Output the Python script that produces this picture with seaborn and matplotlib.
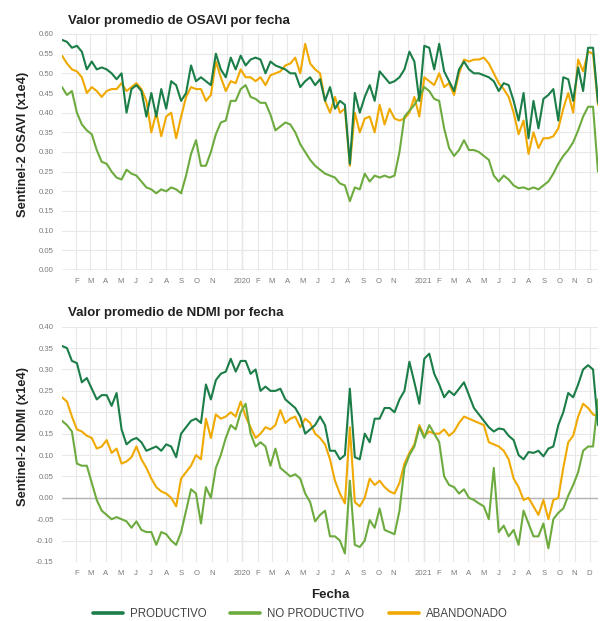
import pandas as pd
import matplotlib.pyplot as plt
import matplotlib.dates as mdates
from matplotlib.lines import Line2D
import seaborn as sns

# fechas cada 10 dias desde el 3 de enero de 2019
fecha_inicio = "2019-01-03"
paso = "10D"

clases = ["PRODUCTIVO", "NO PRODUCTIVO", "ABANDONADO"]
colores = {"PRODUCTIVO": "#1b7d47", "NO PRODUCTIVO": "#6dab3f", "ABANDONADO": "#f0a900"}
meses = ["E", "F", "M", "A", "M", "J", "J", "A", "S", "O", "N", "D"]

osavi_productivo = [
    0.585, 0.580, 0.565, 0.570, 0.555, 0.510, 0.530, 0.510, 0.515, 0.510,
    0.500, 0.485, 0.500, 0.400, 0.460, 0.470, 0.455, 0.390, 0.450, 0.390,
    0.460, 0.410, 0.480, 0.470, 0.430, 0.450, 0.520, 0.480, 0.490, 0.480,
    0.470, 0.550, 0.510, 0.490, 0.540, 0.510, 0.545, 0.520, 0.535, 0.540,
    0.535, 0.500, 0.530, 0.520, 0.515, 0.510, 0.500, 0.500, 0.465, 0.480,
    0.490, 0.470, 0.485, 0.430, 0.465, 0.410, 0.430, 0.420, 0.270, 0.450,
    0.400, 0.440, 0.470, 0.430, 0.505, 0.490, 0.475, 0.480, 0.490, 0.510,
    0.555, 0.530, 0.430, 0.570, 0.565, 0.510, 0.575, 0.505, 0.480, 0.455,
    0.510, 0.530, 0.510, 0.500, 0.500, 0.495, 0.490, 0.480, 0.455, 0.475,
    0.470, 0.430, 0.380, 0.450, 0.335, 0.430, 0.360, 0.435, 0.445, 0.460,
    0.380, 0.490, 0.485, 0.430, 0.515, 0.455, 0.565, 0.565, 0.425,
]
osavi_no_productivo = [
    0.465, 0.445, 0.455, 0.400, 0.370, 0.355, 0.345, 0.305, 0.275, 0.270,
    0.250, 0.235, 0.230, 0.255, 0.245, 0.240, 0.225, 0.210, 0.205, 0.195,
    0.205, 0.200, 0.210, 0.205, 0.195, 0.240, 0.295, 0.330, 0.265, 0.265,
    0.300, 0.345, 0.375, 0.380, 0.430, 0.430, 0.460, 0.470, 0.440, 0.435,
    0.425, 0.425, 0.395, 0.355, 0.365, 0.375, 0.370, 0.350, 0.320, 0.300,
    0.280, 0.265, 0.255, 0.245, 0.240, 0.235, 0.220, 0.215, 0.175, 0.210,
    0.205, 0.245, 0.225, 0.240, 0.235, 0.240, 0.235, 0.240, 0.300, 0.390,
    0.405, 0.420, 0.440, 0.465, 0.455, 0.435, 0.430, 0.360, 0.310, 0.290,
    0.305, 0.330, 0.305, 0.305, 0.300, 0.290, 0.280, 0.240, 0.225, 0.240,
    0.230, 0.215, 0.208, 0.210, 0.205, 0.210, 0.205, 0.215, 0.225, 0.245,
    0.270, 0.290, 0.305, 0.325, 0.355, 0.390, 0.415, 0.415, 0.250,
]
osavi_abandonado = [
    0.545, 0.525, 0.510, 0.505, 0.490, 0.450, 0.465, 0.455, 0.440, 0.455,
    0.460, 0.460, 0.475, 0.455, 0.465, 0.475, 0.460, 0.430, 0.350, 0.400,
    0.340, 0.390, 0.400, 0.335, 0.390, 0.440, 0.465, 0.460, 0.460, 0.430,
    0.445, 0.530, 0.490, 0.455, 0.480, 0.475, 0.510, 0.490, 0.490, 0.480,
    0.490, 0.470, 0.495, 0.500, 0.505, 0.520, 0.525, 0.540, 0.500, 0.575,
    0.525, 0.510, 0.500, 0.430, 0.400, 0.440, 0.400, 0.410, 0.265, 0.400,
    0.350, 0.385, 0.390, 0.350, 0.420, 0.370, 0.410, 0.385, 0.380, 0.385,
    0.400, 0.440, 0.390, 0.490, 0.480, 0.470, 0.500, 0.465, 0.475, 0.445,
    0.500, 0.535, 0.530, 0.535, 0.535, 0.540, 0.525, 0.500, 0.475, 0.460,
    0.440, 0.400, 0.345, 0.380, 0.295, 0.350, 0.310, 0.335, 0.335, 0.340,
    0.360, 0.410, 0.450, 0.400, 0.535, 0.505, 0.555, 0.550, 0.420,
]

ndmi_productivo = [
    0.355, 0.350, 0.320, 0.315, 0.270, 0.280, 0.255, 0.230, 0.240, 0.240,
    0.215, 0.245, 0.160, 0.125, 0.135, 0.140, 0.130, 0.110, 0.115, 0.120,
    0.110, 0.125, 0.120, 0.095, 0.150, 0.165, 0.180, 0.185, 0.175, 0.265,
    0.230, 0.275, 0.290, 0.295, 0.325, 0.295, 0.320, 0.320, 0.290, 0.300,
    0.250, 0.260, 0.250, 0.250, 0.255, 0.230, 0.220, 0.210, 0.190, 0.150,
    0.160, 0.170, 0.190, 0.170, 0.110, 0.110, 0.090, 0.100, 0.255, 0.095,
    0.090, 0.150, 0.130, 0.185, 0.185, 0.210, 0.210, 0.200, 0.230, 0.250,
    0.318, 0.270, 0.220, 0.325, 0.337, 0.290, 0.265, 0.235, 0.250, 0.240,
    0.255, 0.270, 0.240, 0.210, 0.195, 0.180, 0.165, 0.155, 0.162, 0.160,
    0.145, 0.135, 0.100, 0.090, 0.107, 0.105, 0.110, 0.097, 0.115, 0.120,
    0.170, 0.200, 0.245, 0.235, 0.265, 0.300, 0.310, 0.300, 0.170,
]
ndmi_no_productivo = [
    0.180, 0.170, 0.155, 0.080, 0.075, 0.075, 0.035, -0.005, -0.030, -0.040,
    -0.050, -0.045, -0.050, -0.055, -0.070, -0.055, -0.075, -0.080, -0.080, -0.110,
    -0.080, -0.085, -0.100, -0.110, -0.080, -0.030, 0.020, 0.010, -0.060, 0.025,
    0.000, 0.070, 0.100, 0.140, 0.170, 0.160, 0.200, 0.220, 0.150, 0.120,
    0.130, 0.120, 0.075, 0.115, 0.070, 0.060, 0.050, 0.055, 0.045, 0.010,
    -0.010, -0.055, -0.040, -0.030, -0.090, -0.090, -0.100, -0.130, 0.040, -0.110,
    -0.115, -0.100, -0.052, -0.070, -0.025, -0.075, -0.080, -0.085, -0.030, 0.070,
    0.100, 0.120, 0.165, 0.140, 0.170, 0.150, 0.130, 0.050, 0.030, 0.025,
    0.010, 0.020, 0.000, -0.005, -0.013, -0.020, -0.050, 0.070, -0.080, -0.065,
    -0.090, -0.075, -0.110, -0.030, -0.060, -0.090, -0.090, -0.060, -0.118, -0.050,
    -0.035, -0.025, 0.005, 0.030, 0.060, 0.110, 0.120, 0.120, 0.230,
]
ndmi_abandonado = [
    0.235, 0.225, 0.190, 0.160, 0.155, 0.145, 0.140, 0.115, 0.120, 0.135,
    0.105, 0.115, 0.080, 0.085, 0.095, 0.120, 0.090, 0.070, 0.045, 0.025,
    0.015, 0.010, 0.000, -0.020, 0.045, 0.060, 0.075, 0.100, 0.090, 0.185,
    0.140, 0.195, 0.185, 0.190, 0.200, 0.190, 0.225, 0.190, 0.165, 0.140,
    0.150, 0.165, 0.160, 0.170, 0.205, 0.175, 0.185, 0.190, 0.165, 0.185,
    0.175, 0.150, 0.140, 0.125, 0.090, 0.040, 0.010, -0.013, 0.165, -0.010,
    -0.020, 0.000, 0.045, 0.030, 0.040, 0.025, 0.015, 0.010, 0.035, 0.080,
    0.105, 0.125, 0.170, 0.145, 0.155, 0.150, 0.150, 0.160, 0.145, 0.155,
    0.175, 0.190, 0.185, 0.180, 0.175, 0.170, 0.130, 0.125, 0.120, 0.110,
    0.090, 0.045, 0.025, -0.005, 0.000, -0.020, -0.040, -0.005, -0.050, -0.005,
    0.000, 0.070, 0.130, 0.145, 0.190, 0.220, 0.210, 0.195, 0.190,
]


def tabla_larga(series):
    n = len(series["PRODUCTIVO"])
    fechas = pd.date_range(fecha_inicio, periods=n, freq=paso)
    partes = [pd.DataFrame({"fecha": fechas, "valor": v, "clase": k}) for k, v in series.items()]
    return pd.concat(partes, ignore_index=True)


def formato_meses(ultima_fecha):
    def etiqueta(x, pos):
        d = mdates.num2date(x)
        if d.month == 1:
            return str(d.year)
        # diciembre se omite cuando le sigue la etiqueta del anio
        if d.month == 12 and d.year < ultima_fecha.year:
            return ""
        return meses[d.month - 1]
    return etiqueta


def panel(ax, df, ylim, titulo, ylabel, fig, y_titulo, y_label):
    sns.lineplot(data=df, x="fecha", y="valor", hue="clase",
                 hue_order=["ABANDONADO", "NO PRODUCTIVO", "PRODUCTIVO"],
                 palette=colores, linewidth=1.5, legend=False, ax=ax)
    ax.set_xlim(df["fecha"].min(), df["fecha"].max())
    ax.set_ylim(*ylim)
    n_ticks = int(round((ylim[1] - ylim[0]) / 0.05)) + 1
    ax.set_yticks([round(ylim[0] + 0.05 * i, 2) for i in range(n_ticks)])
    ax.yaxis.set_major_formatter(plt.FuncFormatter(lambda v, p: f"{v:.2f}"))
    ax.xaxis.set_major_locator(mdates.MonthLocator())
    ax.xaxis.set_major_formatter(plt.FuncFormatter(formato_meses(df["fecha"].max())))
    ax.grid(True, color="#e8e8e8", linewidth=0.8)
    ax.set_axisbelow(True)
    for s in ax.spines.values():
        s.set_visible(False)
    ax.tick_params(axis="both", length=0, labelsize=5.6, colors="#7a7a7a", pad=6)
    ax.set_xlabel("")
    ax.set_ylabel("")
    for anio in df["fecha"].dt.year.unique()[1:]:
        ax.axvline(pd.Timestamp(f"{anio}-01-01"), color="#cccccc", linewidth=0.9, zorder=0.5)
    ax.axhline(0, color="#b3b3b3", linewidth=1.0, zorder=0.6)
    fig.text(68 / 600, y_titulo, titulo, fontsize=9.5, fontweight="bold", color="#222222", va="baseline")
    fig.text(23 / 600, y_label, ylabel, fontsize=9.3, fontweight="bold", color="#222222",
             rotation=90, ha="center", va="center")


sns.set_theme(style="white")
plt.rcParams["font.family"] = ["Liberation Sans", "DejaVu Sans"]

fig = plt.figure(figsize=(6, 6.21), dpi=100)
ax1 = fig.add_axes([62 / 600, 1 - 270 / 621, 536 / 600, 236 / 621])
ax2 = fig.add_axes([62 / 600, 1 - 562 / 621, 536 / 600, 235.3 / 621])

osavi = tabla_larga({"PRODUCTIVO": osavi_productivo, "NO PRODUCTIVO": osavi_no_productivo,
                     "ABANDONADO": osavi_abandonado})
ndmi = tabla_larga({"PRODUCTIVO": ndmi_productivo, "NO PRODUCTIVO": ndmi_no_productivo,
                    "ABANDONADO": ndmi_abandonado})

panel(ax1, osavi, (0.0, 0.60), "Valor promedio de OSAVI por fecha", "Sentinel-2 OSAVI (x1e4)",
      fig, 1 - 24 / 621, 1 - 144 / 621)
panel(ax2, ndmi, (-0.15, 0.40), "Valor promedio de NDMI por fecha", "Sentinel-2 NDMI (x1e4)",
      fig, 1 - 316 / 621, 1 - 436 / 621)

fig.text(330 / 600, 1 - 595 / 621, "Fecha", fontsize=9.5, fontweight="bold", color="#222222",
         ha="center", va="center")

handles = [Line2D([], [], color=colores[c], linewidth=2.6) for c in clases]
fig.legend(handles, clases, loc="center", bbox_to_anchor=(0.5, 1 - 614 / 621), ncol=3,
           frameon=False, fontsize=8.3, handlelength=2.6, handletextpad=0.6,
           columnspacing=2.1, labelcolor="#444444")

fig.savefig("out.png", dpi=100)
